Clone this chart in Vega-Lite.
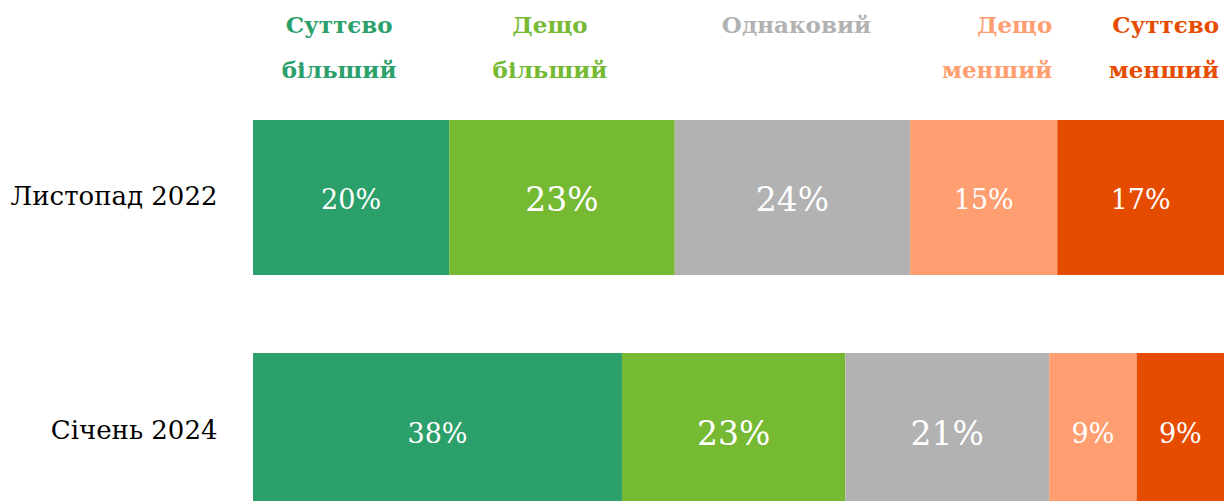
{
  "$schema": "https://vega.github.io/schema/vega-lite/v6.json",
  "autosize": "none",
  "padding": {"left": 253, "top": 120, "right": 0, "bottom": 0},
  "width": 971,
  "height": 388,
  "config": {"view": {"stroke": null}, "font": "DejaVu Serif"},
  "data": {"values": [
    {"period": "Листопад 2022", "cat": "Суттєво більший", "k": 1, "v": 20},
    {"period": "Листопад 2022", "cat": "Дещо більший", "k": 2, "v": 23},
    {"period": "Листопад 2022", "cat": "Однаковий", "k": 3, "v": 24},
    {"period": "Листопад 2022", "cat": "Дещо менший", "k": 4, "v": 15},
    {"period": "Листопад 2022", "cat": "Суттєво менший", "k": 5, "v": 17},
    {"period": "Січень 2024", "cat": "Суттєво більший", "k": 1, "v": 38},
    {"period": "Січень 2024", "cat": "Дещо більший", "k": 2, "v": 23},
    {"period": "Січень 2024", "cat": "Однаковий", "k": 3, "v": 21},
    {"period": "Січень 2024", "cat": "Дещо менший", "k": 4, "v": 9},
    {"period": "Січень 2024", "cat": "Суттєво менший", "k": 5, "v": 9}
  ]},
  "transform": [{"calculate": "datum.v + '%'", "as": "label"}],
  "encoding": {
    "y": {"field": "period", "type": "nominal", "sort": null,
      "scale": {"paddingInner": 0.335, "paddingOuter": 0},
      "axis": {"title": null, "ticks": false, "domain": false, "labelFontSize": 26, "labelColor": "#000000", "labelPadding": 36, "labelLimit": 300, "labelFont": "DejaVu Serif"}},
    "order": {"field": "k", "type": "quantitative"}
  },
  "layer": [
    {
      "mark": {"type": "bar"},
      "encoding": {
        "x": {"field": "v", "type": "quantitative", "stack": "normalize", "axis": null, "scale": {"domain": [0, 1]}},
        "color": {"field": "cat", "type": "nominal", "legend": null,
          "scale": {"domain": ["Суттєво більший", "Дещо більший", "Однаковий", "Дещо менший", "Суттєво менший"],
            "range": ["#2ca06b", "#76b932", "#b2b2b2", "#ff9e70", "#e64c00"]}}
      }
    },
    {
      "mark": {"type": "text", "color": "#ffffff", "baseline": "middle", "align": "center", "fontSize": 27, "dy": 4},
      "encoding": {
        "x": {"field": "v", "type": "quantitative", "stack": "normalize", "bandPosition": 0.5},
        "text": {"field": "label", "type": "nominal"},
        "opacity": {"condition": {"test": "datum.k == 2 || datum.k == 3", "value": 0}, "value": 1}
      }
    },
    {
      "mark": {"type": "text", "color": "#ffffff", "baseline": "middle", "align": "center", "fontSize": 33, "dy": 4},
      "encoding": {
        "x": {"field": "v", "type": "quantitative", "stack": "normalize", "bandPosition": 0.5},
        "text": {"field": "label", "type": "nominal"},
        "opacity": {"condition": {"test": "datum.k == 2 || datum.k == 3", "value": 1}, "value": 0}
      }
    },
    {
      "transform": [{"filter": "datum.period == 'Листопад 2022'"}],
      "mark": {"type": "text", "baseline": "middle", "align": "center", "fontWeight": "bold", "fontSize": 23, "lineBreak": " ", "lineHeight": 45, "dy": -171, "dx": -12},
      "encoding": {
        "x": {"field": "v", "type": "quantitative", "stack": "normalize", "bandPosition": 0.5},
        "text": {"field": "cat", "type": "nominal"},
        "color": {"field": "cat", "type": "nominal", "legend": null},
        "opacity": {"condition": {"test": "datum.k <= 2", "value": 1}, "value": 0}
      }
    },
    {
      "transform": [{"filter": "datum.period == 'Листопад 2022'"}],
      "mark": {"type": "text", "baseline": "middle", "align": "center", "fontWeight": "bold", "fontSize": 23, "lineBreak": " ", "lineHeight": 45, "dy": -171, "dx": 4},
      "encoding": {
        "x": {"field": "v", "type": "quantitative", "stack": "normalize", "bandPosition": 0.5},
        "text": {"field": "cat", "type": "nominal"},
        "color": {"field": "cat", "type": "nominal", "legend": null},
        "opacity": {"condition": {"test": "datum.k == 3", "value": 1}, "value": 0}
      }
    },
    {
      "transform": [{"filter": "datum.period == 'Листопад 2022'"}],
      "mark": {"type": "text", "baseline": "middle", "align": "right", "fontWeight": "bold", "fontSize": 23, "lineBreak": " ", "lineHeight": 45, "dy": -171, "dx": -5},
      "encoding": {
        "x": {"field": "v", "type": "quantitative", "stack": "normalize", "bandPosition": 1},
        "text": {"field": "cat", "type": "nominal"},
        "color": {"field": "cat", "type": "nominal", "legend": null},
        "opacity": {"condition": {"test": "datum.k >= 4", "value": 1}, "value": 0}
      }
    }
  ]
}
